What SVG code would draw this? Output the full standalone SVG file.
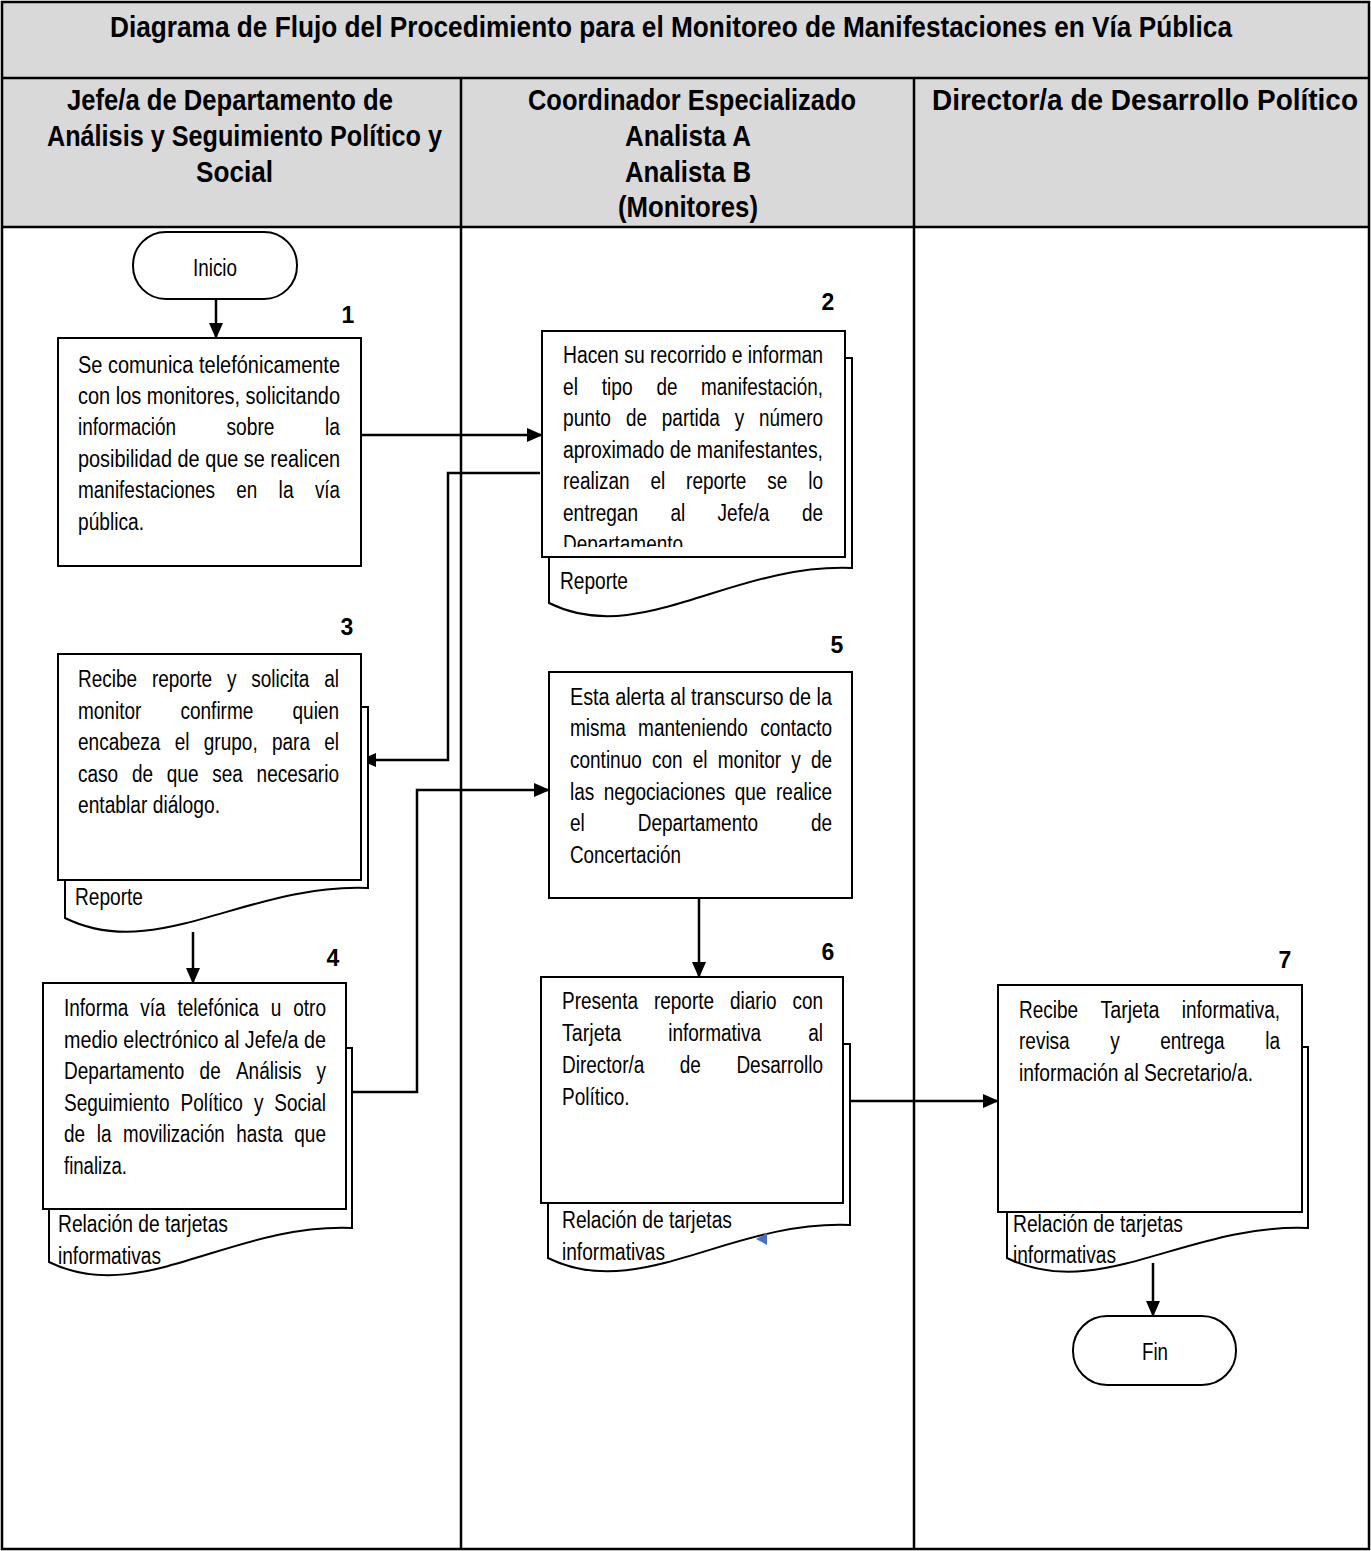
<svg xmlns="http://www.w3.org/2000/svg" width="1371" height="1551" viewBox="0 0 1371 1551">
<style>
.t{font-family:"Liberation Sans Narrow","Arial Narrow","Liberation Sans",Arial,sans-serif;font-size:23px;fill:#000}
.h{font-family:"Liberation Sans Narrow","Arial Narrow","Liberation Sans",Arial,sans-serif;font-size:30px;font-weight:bold;fill:#000}
.n{font-family:"Liberation Sans Narrow","Arial Narrow","Liberation Sans",Arial,sans-serif;font-size:23px;font-weight:bold;fill:#000;text-anchor:middle}
.box{fill:#fff;stroke:#000;stroke-width:2}
.doc{fill:#fff;stroke:#000;stroke-width:2}
.grid{stroke:#000;stroke-width:2.5;fill:none}
.c{fill:none;stroke:#000;stroke-width:2.5;marker-end:url(#arr)}
</style>
<defs>
<marker id="arr" viewBox="0 0 16 14" refX="15" refY="7" markerWidth="16" markerHeight="14" markerUnits="userSpaceOnUse" orient="auto">
<path d="M0,0 L16,7 L0,14 z" fill="#000"/>
</marker>
<clipPath id="clip2"><rect x="545" y="333" width="298" height="214"/></clipPath>
</defs>

<g id="frame">
<rect x="2" y="2" width="1367" height="225" fill="#d9d9d9"/>
<rect x="2" y="2" width="1367" height="1547" class="grid"/>
<line x1="2" y1="78" x2="1369" y2="78" class="grid"/>
<line x1="2" y1="227" x2="1369" y2="227" class="grid"/>
<line x1="461" y1="78" x2="461" y2="1549" class="grid"/>
<line x1="914" y1="78" x2="914" y2="1549" class="grid"/>
<text class="h" x="110" y="37" textLength="1122" lengthAdjust="spacingAndGlyphs">Diagrama de Flujo del Procedimiento para el Monitoreo de Manifestaciones en Vía Pública</text>
<text class="h" x="67" y="110" textLength="326" lengthAdjust="spacingAndGlyphs">Jefe/a de Departamento de</text>
<text class="h" x="47" y="146" textLength="395" lengthAdjust="spacingAndGlyphs">Análisis y Seguimiento Político y</text>
<text class="h" x="196" y="182" textLength="77" lengthAdjust="spacingAndGlyphs">Social</text>
<text class="h" x="528" y="110" textLength="328" lengthAdjust="spacingAndGlyphs">Coordinador Especializado</text>
<text class="h" x="625" y="146" textLength="126" lengthAdjust="spacingAndGlyphs">Analista A</text>
<text class="h" x="625" y="182" textLength="126" lengthAdjust="spacingAndGlyphs">Analista B</text>
<text class="h" x="618" y="217" textLength="140" lengthAdjust="spacingAndGlyphs">(Monitores)</text>
<text class="h" x="932" y="110" textLength="426" lengthAdjust="spacingAndGlyphs">Director/a de Desarrollo Político</text>
</g>

<g id="connectors">
<line class="c" x1="216" y1="300" x2="216" y2="338"/>
<line class="c" x1="361" y1="435" x2="542" y2="435"/>
<polyline class="c" points="540,473 448,473 448,760 361,760"/>
<line class="c" x1="193" y1="932" x2="193" y2="983"/>
<polyline class="c" points="346,1092 417,1092 417,790 549,790"/>
<line class="c" x1="699" y1="898" x2="699" y2="977"/>
<line class="c" x1="843" y1="1101" x2="998" y2="1101"/>
<line class="c" x1="1153" y1="1263" x2="1153" y2="1316"/>
</g>

<g id="inicio">
<rect x="133" y="232" width="164" height="67" rx="33" ry="33" class="box"/>
<text class="t" x="193" y="276" textLength="44" lengthAdjust="spacingAndGlyphs">Inicio</text>
</g>

<g id="step1">
<text class="n" x="348" y="323">1</text>
<rect x="58" y="338" width="303" height="228" class="box"/>
<text class="t" x="78" y="373" textLength="262" lengthAdjust="spacingAndGlyphs">Se comunica telefónicamente</text>
<text class="t" x="78" y="404" textLength="262" lengthAdjust="spacingAndGlyphs">con los monitores, solicitando</text>
<text class="t" x="78" y="435" textLength="98" lengthAdjust="spacingAndGlyphs">información</text>
<text class="t" x="226.5" y="435" textLength="48" lengthAdjust="spacingAndGlyphs">sobre</text>
<text class="t" x="325" y="435" textLength="15" lengthAdjust="spacingAndGlyphs">la</text>
<text class="t" x="78" y="467" textLength="262" lengthAdjust="spacingAndGlyphs">posibilidad de que se realicen</text>
<text class="t" x="78" y="498" textLength="137" lengthAdjust="spacingAndGlyphs">manifestaciones</text>
<text class="t" x="236.3" y="498" textLength="21" lengthAdjust="spacingAndGlyphs">en</text>
<text class="t" x="278.6" y="498" textLength="15" lengthAdjust="spacingAndGlyphs">la</text>
<text class="t" x="315" y="498" textLength="25" lengthAdjust="spacingAndGlyphs">vía</text>
<text class="t" x="78" y="530" textLength="66" lengthAdjust="spacingAndGlyphs">pública.</text>
</g>

<g id="step2">
<text class="n" x="828" y="310">2</text>
<path class="doc" d="M549,358 H852 V568 C731,563 640,648 549,603 Z"/>
<rect x="542" y="331" width="303" height="226" class="box"/>
<g clip-path="url(#clip2)">
<text class="t" x="563" y="363" textLength="260" lengthAdjust="spacingAndGlyphs">Hacen su recorrido e informan</text>
<text class="t" x="563" y="395" textLength="15" lengthAdjust="spacingAndGlyphs">el</text>
<text class="t" x="601.7" y="395" textLength="31" lengthAdjust="spacingAndGlyphs">tipo</text>
<text class="t" x="656.4" y="395" textLength="21" lengthAdjust="spacingAndGlyphs">de</text>
<text class="t" x="701" y="395" textLength="122" lengthAdjust="spacingAndGlyphs">manifestación,</text>
<text class="t" x="563" y="426" textLength="48" lengthAdjust="spacingAndGlyphs">punto</text>
<text class="t" x="625.9" y="426" textLength="21" lengthAdjust="spacingAndGlyphs">de</text>
<text class="t" x="661.8" y="426" textLength="58" lengthAdjust="spacingAndGlyphs">partida</text>
<text class="t" x="734.7" y="426" textLength="9.5" lengthAdjust="spacingAndGlyphs">y</text>
<text class="t" x="759" y="426" textLength="64" lengthAdjust="spacingAndGlyphs">número</text>
<text class="t" x="563" y="458" textLength="260" lengthAdjust="spacingAndGlyphs">aproximado de manifestantes,</text>
<text class="t" x="563" y="489" textLength="66.5" lengthAdjust="spacingAndGlyphs">realizan</text>
<text class="t" x="650.4" y="489" textLength="14.8" lengthAdjust="spacingAndGlyphs">el</text>
<text class="t" x="686.1" y="489" textLength="60.2" lengthAdjust="spacingAndGlyphs">reporte</text>
<text class="t" x="767.2" y="489" textLength="20" lengthAdjust="spacingAndGlyphs">se</text>
<text class="t" x="808.2" y="489" textLength="14.8" lengthAdjust="spacingAndGlyphs">lo</text>
<text class="t" x="563" y="521" textLength="75" lengthAdjust="spacingAndGlyphs">entregan</text>
<text class="t" x="670.4" y="521" textLength="14.8" lengthAdjust="spacingAndGlyphs">al</text>
<text class="t" x="717.6" y="521" textLength="51.8" lengthAdjust="spacingAndGlyphs">Jefe/a</text>
<text class="t" x="801.9" y="521" textLength="21.1" lengthAdjust="spacingAndGlyphs">de</text>
<text class="t" x="563" y="552" textLength="120" lengthAdjust="spacingAndGlyphs">Departamento</text>
</g>
<text class="t" x="560" y="589" textLength="68" lengthAdjust="spacingAndGlyphs">Reporte</text>
</g>

<g id="step3">
<text class="n" x="347" y="635">3</text>
<path class="doc" d="M65,707 H368 V888 C247,883 156,963 65,918 Z"/>
<rect x="58" y="654" width="303" height="226" class="box"/>
<text class="t" x="78" y="687" textLength="59.1" lengthAdjust="spacingAndGlyphs">Recibe</text>
<text class="t" x="151.9" y="687" textLength="60.2" lengthAdjust="spacingAndGlyphs">reporte</text>
<text class="t" x="226.9" y="687" textLength="9.5" lengthAdjust="spacingAndGlyphs">y</text>
<text class="t" x="251.2" y="687" textLength="58.1" lengthAdjust="spacingAndGlyphs">solicita</text>
<text class="t" x="324.2" y="687" textLength="14.8" lengthAdjust="spacingAndGlyphs">al</text>
<text class="t" x="78" y="719" textLength="63.3" lengthAdjust="spacingAndGlyphs">monitor</text>
<text class="t" x="180.5" y="719" textLength="72.8" lengthAdjust="spacingAndGlyphs">confirme</text>
<text class="t" x="292.5" y="719" textLength="46.5" lengthAdjust="spacingAndGlyphs">quien</text>
<text class="t" x="78" y="750" textLength="82.4" lengthAdjust="spacingAndGlyphs">encabeza</text>
<text class="t" x="174.7" y="750" textLength="14.8" lengthAdjust="spacingAndGlyphs">el</text>
<text class="t" x="203.8" y="750" textLength="53.9" lengthAdjust="spacingAndGlyphs">grupo,</text>
<text class="t" x="272" y="750" textLength="38" lengthAdjust="spacingAndGlyphs">para</text>
<text class="t" x="324.2" y="750" textLength="14.8" lengthAdjust="spacingAndGlyphs">el</text>
<text class="t" x="78" y="782" textLength="40.1" lengthAdjust="spacingAndGlyphs">caso</text>
<text class="t" x="131.9" y="782" textLength="21.1" lengthAdjust="spacingAndGlyphs">de</text>
<text class="t" x="166.8" y="782" textLength="31.7" lengthAdjust="spacingAndGlyphs">que</text>
<text class="t" x="212.3" y="782" textLength="30.6" lengthAdjust="spacingAndGlyphs">sea</text>
<text class="t" x="256.6" y="782" textLength="82.4" lengthAdjust="spacingAndGlyphs">necesario</text>
<text class="t" x="78" y="813" textLength="142" lengthAdjust="spacingAndGlyphs">entablar diálogo.</text>
<text class="t" x="75" y="905" textLength="68" lengthAdjust="spacingAndGlyphs">Reporte</text>
</g>

<g id="step4">
<text class="n" x="333" y="966">4</text>
<path class="doc" d="M49,1048 H352 V1228 C231,1223 140,1307 49,1262 Z"/>
<rect x="43" y="983" width="303" height="226" class="box"/>
<text class="t" x="64" y="1016" textLength="64.4" lengthAdjust="spacingAndGlyphs">Informa</text>
<text class="t" x="140.3" y="1016" textLength="25.3" lengthAdjust="spacingAndGlyphs">vía</text>
<text class="t" x="177.5" y="1016" textLength="81.3" lengthAdjust="spacingAndGlyphs">telefónica</text>
<text class="t" x="270.7" y="1016" textLength="10.6" lengthAdjust="spacingAndGlyphs">u</text>
<text class="t" x="293.3" y="1016" textLength="32.7" lengthAdjust="spacingAndGlyphs">otro</text>
<text class="t" x="64" y="1048" textLength="262" lengthAdjust="spacingAndGlyphs">medio electrónico al Jefe/a de</text>
<text class="t" x="64" y="1079" textLength="120.4" lengthAdjust="spacingAndGlyphs">Departamento</text>
<text class="t" x="199.6" y="1079" textLength="21.1" lengthAdjust="spacingAndGlyphs">de</text>
<text class="t" x="235.9" y="1079" textLength="65.5" lengthAdjust="spacingAndGlyphs">Análisis</text>
<text class="t" x="316.5" y="1079" textLength="9.5" lengthAdjust="spacingAndGlyphs">y</text>
<text class="t" x="64" y="1111" textLength="105.6" lengthAdjust="spacingAndGlyphs">Seguimiento</text>
<text class="t" x="180.6" y="1111" textLength="62.3" lengthAdjust="spacingAndGlyphs">Político</text>
<text class="t" x="253.9" y="1111" textLength="9.5" lengthAdjust="spacingAndGlyphs">y</text>
<text class="t" x="274.3" y="1111" textLength="51.7" lengthAdjust="spacingAndGlyphs">Social</text>
<text class="t" x="64" y="1142" textLength="21.1" lengthAdjust="spacingAndGlyphs">de</text>
<text class="t" x="96.7" y="1142" textLength="14.8" lengthAdjust="spacingAndGlyphs">la</text>
<text class="t" x="123.1" y="1142" textLength="101.6" lengthAdjust="spacingAndGlyphs">movilización</text>
<text class="t" x="236.3" y="1142" textLength="46.5" lengthAdjust="spacingAndGlyphs">hasta</text>
<text class="t" x="294.3" y="1142" textLength="31.7" lengthAdjust="spacingAndGlyphs">que</text>
<text class="t" x="64" y="1174" textLength="63" lengthAdjust="spacingAndGlyphs">finaliza.</text>
<text class="t" x="58" y="1232" textLength="170" lengthAdjust="spacingAndGlyphs">Relación de tarjetas</text>
<text class="t" x="58" y="1264" textLength="103" lengthAdjust="spacingAndGlyphs">informativas</text>
</g>

<g id="step5">
<text class="n" x="837" y="653">5</text>
<rect x="549" y="672" width="303" height="226" class="box"/>
<text class="t" x="570" y="705" textLength="262" lengthAdjust="spacingAndGlyphs">Esta alerta al transcurso de la</text>
<text class="t" x="570" y="736" textLength="55.9" lengthAdjust="spacingAndGlyphs">misma</text>
<text class="t" x="638.1" y="736" textLength="109.8" lengthAdjust="spacingAndGlyphs">manteniendo</text>
<text class="t" x="760.2" y="736" textLength="71.8" lengthAdjust="spacingAndGlyphs">contacto</text>
<text class="t" x="570" y="768" textLength="71.8" lengthAdjust="spacingAndGlyphs">continuo</text>
<text class="t" x="652" y="768" textLength="30.6" lengthAdjust="spacingAndGlyphs">con</text>
<text class="t" x="692.8" y="768" textLength="14.8" lengthAdjust="spacingAndGlyphs">el</text>
<text class="t" x="717.8" y="768" textLength="63.3" lengthAdjust="spacingAndGlyphs">monitor</text>
<text class="t" x="791.3" y="768" textLength="9.5" lengthAdjust="spacingAndGlyphs">y</text>
<text class="t" x="810.9" y="768" textLength="21.1" lengthAdjust="spacingAndGlyphs">de</text>
<text class="t" x="570" y="800" textLength="24.3" lengthAdjust="spacingAndGlyphs">las</text>
<text class="t" x="603.8" y="800" textLength="121.4" lengthAdjust="spacingAndGlyphs">negociaciones</text>
<text class="t" x="734.7" y="800" textLength="31.7" lengthAdjust="spacingAndGlyphs">que</text>
<text class="t" x="776" y="800" textLength="56" lengthAdjust="spacingAndGlyphs">realice</text>
<text class="t" x="570" y="831" textLength="14.8" lengthAdjust="spacingAndGlyphs">el</text>
<text class="t" x="637.7" y="831" textLength="120.4" lengthAdjust="spacingAndGlyphs">Departamento</text>
<text class="t" x="810.9" y="831" textLength="21.1" lengthAdjust="spacingAndGlyphs">de</text>
<text class="t" x="570" y="863" textLength="111" lengthAdjust="spacingAndGlyphs">Concertación</text>
</g>

<g id="step6">
<text class="n" x="828" y="960">6</text>
<path class="doc" d="M548,1044 H850 V1225 C729,1220 639,1303 548,1258 Z"/>
<rect x="541" y="977" width="302" height="226" class="box"/>
<text class="t" x="562" y="1009" textLength="76" lengthAdjust="spacingAndGlyphs">Presenta</text>
<text class="t" x="653.9" y="1009" textLength="60.2" lengthAdjust="spacingAndGlyphs">reporte</text>
<text class="t" x="730" y="1009" textLength="46.5" lengthAdjust="spacingAndGlyphs">diario</text>
<text class="t" x="792.4" y="1009" textLength="30.6" lengthAdjust="spacingAndGlyphs">con</text>
<text class="t" x="562" y="1041" textLength="59.1" lengthAdjust="spacingAndGlyphs">Tarjeta</text>
<text class="t" x="668.2" y="1041" textLength="92.9" lengthAdjust="spacingAndGlyphs">informativa</text>
<text class="t" x="808.2" y="1041" textLength="14.8" lengthAdjust="spacingAndGlyphs">al</text>
<text class="t" x="562" y="1073" textLength="82.3" lengthAdjust="spacingAndGlyphs">Director/a</text>
<text class="t" x="679.8" y="1073" textLength="21.1" lengthAdjust="spacingAndGlyphs">de</text>
<text class="t" x="736.4" y="1073" textLength="86.6" lengthAdjust="spacingAndGlyphs">Desarrollo</text>
<text class="t" x="562" y="1105" textLength="67.6" lengthAdjust="spacingAndGlyphs">Político.</text>
<text class="t" x="562" y="1228" textLength="170" lengthAdjust="spacingAndGlyphs">Relación de tarjetas</text>
<text class="t" x="562" y="1260" textLength="103" lengthAdjust="spacingAndGlyphs">informativas</text>
<path d="M756,1239 L767,1233 L767,1245 Z" fill="#4472c4"/>
</g>

<g id="step7">
<text class="n" x="1285" y="968">7</text>
<path class="doc" d="M1007,1047 H1308 V1228 C1188,1223 1098,1303 1007,1258 Z"/>
<rect x="998" y="985" width="304" height="227" class="box"/>
<text class="t" x="1019" y="1018" textLength="59.1" lengthAdjust="spacingAndGlyphs">Recibe</text>
<text class="t" x="1100.4" y="1018" textLength="59.1" lengthAdjust="spacingAndGlyphs">Tarjeta</text>
<text class="t" x="1181.8" y="1018" textLength="98.2" lengthAdjust="spacingAndGlyphs">informativa,</text>
<text class="t" x="1019" y="1049" textLength="50.7" lengthAdjust="spacingAndGlyphs">revisa</text>
<text class="t" x="1110.2" y="1049" textLength="9.5" lengthAdjust="spacingAndGlyphs">y</text>
<text class="t" x="1160.2" y="1049" textLength="64.4" lengthAdjust="spacingAndGlyphs">entrega</text>
<text class="t" x="1265.2" y="1049" textLength="14.8" lengthAdjust="spacingAndGlyphs">la</text>
<text class="t" x="1019" y="1081" textLength="234" lengthAdjust="spacingAndGlyphs">información al Secretario/a.</text>
<text class="t" x="1013" y="1232" textLength="170" lengthAdjust="spacingAndGlyphs">Relación de tarjetas</text>
<text class="t" x="1013" y="1263" textLength="103" lengthAdjust="spacingAndGlyphs">informativas</text>
</g>

<g id="fin">
<rect x="1073" y="1316" width="163" height="69" rx="34" ry="34" class="box"/>
<text class="t" x="1142" y="1360" textLength="26" lengthAdjust="spacingAndGlyphs">Fin</text>
</g>
</svg>
